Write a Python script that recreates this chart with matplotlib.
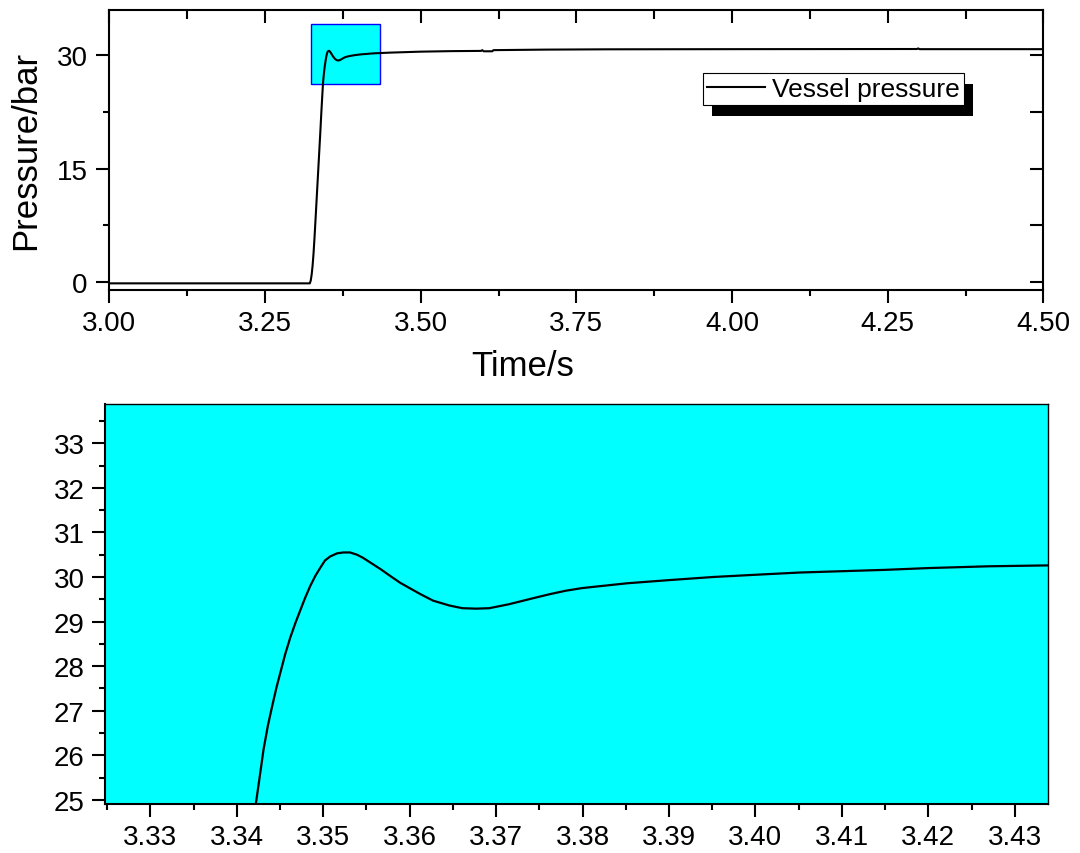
import matplotlib.pyplot as plt
from matplotlib.patches import Rectangle
from matplotlib.transforms import IdentityTransform
from matplotlib.ticker import MultipleLocator

plt.rcParams['font.family'] = ['Liberation Sans', 'DejaVu Sans']

# vessel pressure trace
time_s = [3.000, 3.3220, 3.3235, 3.3250, 3.3265, 3.3280, 3.3295, 3.3310,
          3.3330, 3.3350, 3.3370, 3.3390, 3.3405,
          3.3422, 3.3426, 3.3431, 3.3436, 3.3441, 3.3446, 3.3451, 3.3456,
          3.3462, 3.3468, 3.3474, 3.3479, 3.3485, 3.3491, 3.3497, 3.3502,
          3.3508, 3.3516, 3.3523, 3.3531, 3.3539, 3.3546, 3.3554, 3.3566,
          3.3577, 3.3589, 3.3600, 3.3612, 3.3627, 3.3646, 3.3661, 3.3677,
          3.3692, 3.3715, 3.3742, 3.3761, 3.3780, 3.3799, 3.3818, 3.3852,
          3.3900, 3.3951, 3.4000, 3.4051, 3.4100, 3.4150, 3.4200, 3.4270,
          3.4338, 3.450, 3.500, 3.550, 3.597, 3.599, 3.601, 3.615, 3.617,
          3.700, 3.800, 4.000, 4.297, 4.299, 4.301, 4.500]
pressure_bar = [-0.18, -0.18, 0.2, 1.0, 2.2, 3.8, 5.8, 8.0,
                11.0, 14.0, 17.0, 20.0, 22.4,
                24.91, 25.45, 26.14, 26.67, 27.11, 27.53, 27.90, 28.27,
                28.65, 28.98, 29.28, 29.53, 29.80, 30.03, 30.22, 30.37,
                30.46, 30.53, 30.55, 30.55, 30.50, 30.43, 30.33, 30.18,
                30.03, 29.87, 29.75, 29.62, 29.47, 29.36, 29.30, 29.29,
                29.30, 29.39, 29.52, 29.61, 29.69, 29.75, 29.79, 29.86,
                29.93, 30.00, 30.05, 30.10, 30.13, 30.16, 30.20, 30.24,
                30.26, 30.32, 30.45, 30.52, 30.55, 30.65, 30.50, 30.50, 30.65,
                30.72, 30.76, 30.78, 30.80, 30.88, 30.78, 30.78]

zoom_box_t = [3.3244, 3.4347]
zoom_box_p = [26.2, 34.1]
inset_xlim = [3.3247, 3.4338]
inset_ylim = [24.91, 33.88]

fig = plt.figure(figsize=(10.8, 8.54), dpi=100)
ax = fig.add_axes([0.1012, 0.6596, 0.8649, 0.3279])
ax2 = fig.add_axes([0.0968, 0.0574, 0.8732, 0.4684])

# --- main plot ---
ax.add_patch(Rectangle((zoom_box_t[0], zoom_box_p[0]),
                       zoom_box_t[1] - zoom_box_t[0],
                       zoom_box_p[1] - zoom_box_p[0],
                       facecolor='#00ffff', edgecolor='#0000ff',
                       linewidth=1.0, zorder=1))
ax.plot(time_s, pressure_bar, color='black', linewidth=1.5,
        label='Vessel pressure', zorder=2)
ax.set_xlim(3.0, 4.5)
ax.set_ylim(-1.02, 36.0)
ax.xaxis.set_major_locator(MultipleLocator(0.25))
ax.xaxis.set_minor_locator(MultipleLocator(0.125))
ax.yaxis.set_major_locator(MultipleLocator(15))
ax.yaxis.set_minor_locator(MultipleLocator(7.5))
ax.xaxis.set_major_formatter(lambda v, p: f'{v:.2f}')
ax.tick_params(which='both', labelsize=20, width=1.5, direction='out',
               top=True, right=True)
ax.tick_params(which='major', length=9.5)
ax.tick_params(which='minor', length=4.5)
ax.tick_params(axis='x', pad=5)
ax.tick_params(axis='y', pad=6)
for sp in ax.spines.values():
    sp.set_linewidth(1.5)

ax.set_xlabel('Time/s', fontsize=25)
ax.set_ylabel('Pressure/bar', fontsize=25)
ax.xaxis.set_label_coords(0.443, -0.212)
ax.yaxis.set_label_coords(-0.072, 0.502)

leg = ax.legend(loc='upper left', bbox_to_anchor=(0.636, 0.774),
                fontsize=19, frameon=True, fancybox=False,
                edgecolor='black', framealpha=1, borderpad=0.15,
                borderaxespad=0, handlelength=2.2, handletextpad=0.25)
leg.get_frame().set_linewidth(0.8)

# --- zoomed plot ---
ax2.set_facecolor('#00ffff')
ax2.plot(time_s, pressure_bar, color='black', linewidth=1.6)
ax2.set_xlim(*inset_xlim)
ax2.set_ylim(*inset_ylim)
ax2.xaxis.set_major_locator(MultipleLocator(0.01))
ax2.xaxis.set_minor_locator(MultipleLocator(0.005))
ax2.yaxis.set_major_locator(MultipleLocator(1))
ax2.yaxis.set_minor_locator(MultipleLocator(0.5))
ax2.xaxis.set_major_formatter(lambda v, p: f'{v:.2f}')
ax2.tick_params(which='both', labelsize=20, width=1.5, direction='out')
ax2.tick_params(which='major', length=9.5, pad=5)
ax2.tick_params(which='minor', length=4.5)
for name, sp in ax2.spines.items():
    sp.set_linewidth(1.5 if name in ('left', 'bottom') else 1.0)

fig.canvas.draw()

# Origin style on the top plot: out on bottom/left, in on top/right
for tick in ax.xaxis.get_major_ticks():
    tick.tick2line.set_marker(3)
for tick in ax.xaxis.get_minor_ticks():
    tick.tick2line.set_marker(3)
    tick.tick2line.set_markersize(6.5)
for tick in ax.yaxis.get_major_ticks():
    tick.tick2line.set_marker(0)
for tick in ax.yaxis.get_minor_ticks():
    tick.tick2line.set_marker(0)
    tick.tick2line.set_markersize(9.5)

# legend drop shadow (solid black, offset down-right)
bb = leg.get_window_extent()
shadow = Rectangle((bb.x0 + 9, bb.y0 - 11), bb.width, bb.height,
                   transform=IdentityTransform(), facecolor='black',
                   edgecolor='none', zorder=leg.get_zorder() - 0.5,
                   clip_on=False)
ax.add_artist(shadow)

plt.savefig('out.png', dpi=100)
